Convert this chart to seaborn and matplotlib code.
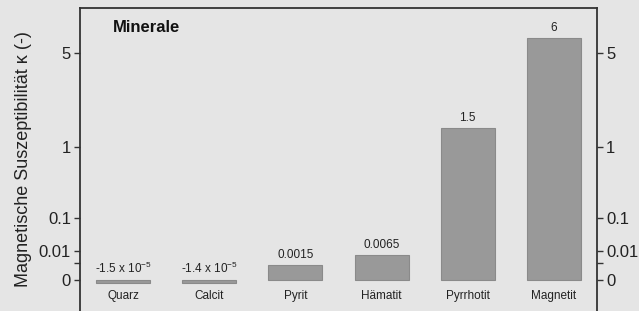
import numpy as np
import pandas as pd
import matplotlib
matplotlib.use("Agg")
import matplotlib.pyplot as plt
import seaborn as sns

categories = ["Quarz", "Calcit", "Pyrit", "Hämatit", "Pyrrhotit", "Magnetit"]
values = [-1.5e-5, -1.4e-5, 0.0015, 0.0065, 1.5, 6.0]
value_labels = [r"-1.5 x 10$^{-5}$", r"-1.4 x 10$^{-5}$", "0.0015", "0.0065", "1.5", "6"]
ytick_values = [0, 0.002, 0.01, 0.1, 1, 5]
ytick_labels = ["0", "", "0.01", "0.1", "1", "5"]

sns.set_theme(style="white")
plt.rcParams["font.family"] = ["Liberation Sans", "DejaVu Sans"]
plt.rcParams["mathtext.default"] = "regular"

BG = "#e5e5e5"
fig = plt.figure(figsize=(6.39, 3.11), dpi=100, facecolor=BG)
ax = fig.add_axes([80 / 639, 0.0, 517 / 639, 303 / 311], facecolor=BG)

df = pd.DataFrame({"Mineral": categories, "kappa": values})
sns.barplot(data=df, x="Mineral", y="kappa", color="#999999", saturation=1,
            width=0.625, edgecolor="#8a8a8a", linewidth=0.8, ax=ax)

fwd = lambda v: np.cbrt(v)
inv = lambda v: np.power(v, 3)
ax.set_yscale("function", functions=(fwd, inv))
ax.set_ylim(-0.0127, 8.55)
ax.set_xlim(-0.5, 5.5)

ax.set_yticks(ytick_values)
ax.set_yticklabels(ytick_labels)
ax.yaxis.set_minor_locator(matplotlib.ticker.NullLocator())
ax.tick_params(axis="y", which="major", left=True, right=True, labelleft=True,
               labelright=True, length=4.5, width=1.0, color="#333333",
               labelsize=12, labelcolor="#222222", pad=2)
ax.set_xticks([])
ax.set_xlabel("")
ax.set_ylabel("Magnetische Suszeptibilität κ (-)", fontsize=13, color="#222222", labelpad=5)

for s in ["left", "right", "top"]:
    ax.spines[s].set_visible(True)
    ax.spines[s].set_color("#333333")
    ax.spines[s].set_linewidth(1.3)
ax.spines["bottom"].set_visible(False)

for i, (cat, v, lab) in enumerate(zip(categories, values, value_labels)):
    ax.text(i, -0.0017, cat, ha="center", va="center", fontsize=8.5, color="#222222")
    ax.annotate(lab, (i, max(v, 0)), xytext=(0, 3), textcoords="offset points",
                ha="center", va="bottom", fontsize=8.5, color="#222222")

ax.text(0.064, 0.937, "Minerale", transform=ax.transAxes, fontsize=12,
        fontweight="bold", ha="left", va="center", color="#111111")

fig.savefig("out.png", dpi=100, facecolor=BG)
